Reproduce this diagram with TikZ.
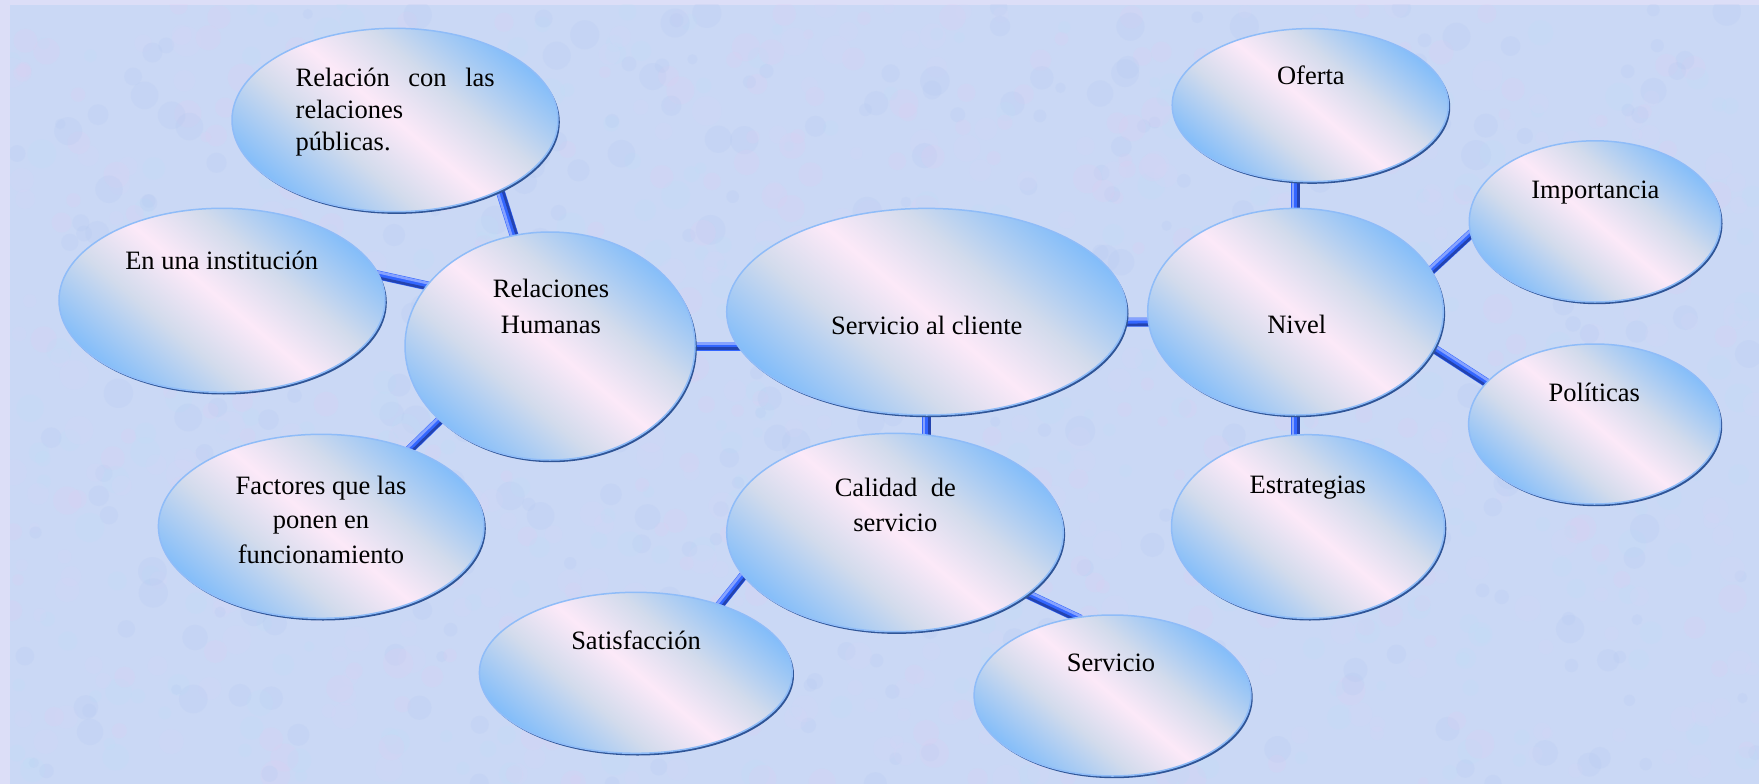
\documentclass[tikz,border=0pt]{standalone}
\usepackage{fontspec}
\setmainfont{Liberation Serif}
\usetikzlibrary{shapes.geometric,shadows,calc}
\definecolor{eblue}{HTML}{80BCFA}
\definecolor{egray}{HTML}{D2DBEC}
\definecolor{epink}{HTML}{FCE9F8}
\definecolor{elight}{HTML}{8FBCF8}
\definecolor{edark}{HTML}{2F5597}
\definecolor{cmain}{HTML}{3366FF}
\definecolor{clight}{HTML}{86A2FF}
\definecolor{cdark}{HTML}{2343B0}
\definecolor{bgouter}{HTML}{DCDEF7}
\definecolor{bginner}{HTML}{CAD8F5}
\definecolor{tpink}{HTML}{E2CCF2}
\definecolor{tcyan}{HTML}{BDE0F5}
\definecolor{tblue}{HTML}{B0C6F0}
\definecolor{tlav}{HTML}{D9D6F8}
\pgfdeclareverticalshading{ellgrad}{100bp}{color(0bp)=(eblue); color(24bp)=(eblue); color(39bp)=(egray); color(50bp)=(epink); color(61bp)=(egray); color(76bp)=(eblue); color(100bp)=(eblue)}
\pgfdeclarelayer{bg}
\pgfdeclarelayer{links}
\pgfsetlayers{bg,links,main}
\newcommand\conn[2]{%
  \draw[lkm] (#1) -- (#2);
  \draw[lkd] ($(#1)!2.7pt!-90:(#2)$) -- ($(#2)!2.7pt!90:(#1)$);
  \draw[lkl] ($(#1)!2.7pt!90:(#2)$) -- ($(#2)!2.7pt!-90:(#1)$);}
\begin{document}
\begin{tikzpicture}[x=1pt,y=-1pt,
  bub/.style={ellipse, inner sep=0pt, shading=ellgrad, shading angle=-40, draw=elight, line width=1.5pt,
    drop shadow={shadow xshift=1.8pt, shadow yshift=-2.2pt, fill=edark, opacity=1}},
  lbl/.style={inner sep=0pt, anchor=base, font=\fontsize{26.5}{31.7}\selectfont, text=black},
  lkm/.style={draw=cmain, line width=9pt, shorten <=-5pt, shorten >=-5pt},
  lkd/.style={draw=cdark, line width=2.6pt, shorten <=-5pt, shorten >=-5pt},
  lkl/.style={draw=clight, line width=2.6pt, shorten <=-5pt, shorten >=-5pt},
]
\useasboundingbox (0,0) rectangle (1759,784);
\begin{pgfonlayer}{bg}
\fill[bgouter] (0,0) rectangle (1759,784);
\fill[bginner] (10,5) rectangle (1759,784);
\begin{scope}
\clip (10,5) rectangle (1759,784);
\pgfmathsetseed{7}
\foreach \i in {1,...,1400}{
  \pgfmathsetmacro{\px}{10+rnd*1749}
  \pgfmathsetmacro{\py}{5+rnd*779}
  \pgfmathsetmacro{\pr}{5+rnd*10}
  \pgfmathtruncatemacro{\pc}{int(rnd*4)}
  \ifcase\pc \def\tc{tpink}\or \def\tc{tcyan}\or \def\tc{tblue}\else \def\tc{tlav}\fi
  \fill[\tc, opacity=0.18] (\px,\py) circle (\pr pt);
}
\end{scope}
\end{pgfonlayer}

\node[bub, minimum width=326pt, minimum height=183.4pt] (rel) at (395,120) {};
\node[bub, minimum width=326pt, minimum height=184pt] (enuna) at (222,300.3) {};
\node[bub, minimum width=290pt, minimum height=228pt] (rh) at (550,346) {};
\node[bub, minimum width=325.6pt, minimum height=184pt] (fac) at (321.2,526.3) {};
\node[bub, minimum width=400pt, minimum height=206.6pt] (sac) at (926.7,311.7) {};
\node[bub, minimum width=336.6pt, minimum height=198.4pt] (cal) at (895,532.5) {};
\node[bub, minimum width=312.8pt, minimum height=161pt] (sat) at (635.8,672.8) {};
\node[bub, minimum width=276.8pt, minimum height=161pt] (ser) at (1112.5,695.5) {};
\node[bub, minimum width=295.6pt, minimum height=206.6pt] (niv) at (1295.5,311.7) {};
\node[bub, minimum width=276.2pt, minimum height=153pt] (ofe) at (1310.3,105.1) {};
\node[bub, minimum width=251.4pt, minimum height=161.2pt] (imp) at (1595,221.4) {};
\node[bub, minimum width=251.8pt, minimum height=160pt] (pol) at (1594.5,424) {};
\node[bub, minimum width=273pt, minimum height=183.6pt] (est) at (1308,526.5) {};

\coordinate (rhsac) at (rh -| sac);
\coordinate (sacal) at (sac |- cal);
\coordinate (nivofe) at (niv |- ofe);
\coordinate (nivest) at (niv |- est);

\begin{pgfonlayer}{links}
\conn{rh.108.8}{rel.-34.1}
\conn{enuna.9.9}{rh.154.3}
\conn{fac.41}{rh.214.7}
\conn{rh.center}{rhsac}
\conn{sacal}{sac.center}
\conn{sac.-3.5}{niv.184.8}
\conn{sat.39.9}{cal.196.4}
\conn{cal.-25.4}{ser.115.3}
\conn{niv.center}{nivofe}
\conn{niv.17.5}{imp.186.1}
\conn{niv.-15.8}{pol.159.8}
\conn{nivest}{niv.center}
\end{pgfonlayer}

\node[lbl, anchor=base west] (t-rel) at (295.5,86.7) {\begin{tabular}[t]{@{}l@{}}\hbox to 199pt{Relación\hfill con\hfill las}\\relaciones\\públicas.\end{tabular}};
\node[lbl] (t-enuna) at (221.7,269) {En una institución};
\node[lbl, font=\fontsize{26.5}{36}\selectfont] (t-rh) at (551,297.3) {\begin{tabular}[t]{@{}c@{}}Relaciones\\Humanas\end{tabular}};
\node[lbl, font=\fontsize{26.5}{34.7}\selectfont] (t-fac) at (321,494) {\begin{tabular}[t]{@{}c@{}}Factores que las\\ponen en\\funcionamiento\end{tabular}};
\node[lbl] (t-sac) at (926.7,334.3) {Servicio al cliente};
\node[lbl, font=\fontsize{26.5}{35}\selectfont] (t-cal) at (895.3,496.7) {\begin{tabular}[t]{@{}c@{}}\hbox to 121pt{Calidad\hfill de}\\servicio\end{tabular}};
\node[lbl] (t-sat) at (636,649) {Satisfacción};
\node[lbl] (t-ser) at (1111,671.7) {Servicio};
\node[lbl] (t-niv) at (1296.7,333.3) {Nivel};
\node[lbl] (t-ofe) at (1310.9,84.5) {Oferta};
\node[lbl] (t-imp) at (1595.4,198.8) {Importancia};
\node[lbl] (t-pol) at (1594.3,401.2) {Políticas};
\node[lbl] (t-est) at (1307.8,493.9) {Estrategias};
\end{tikzpicture}
\end{document}
